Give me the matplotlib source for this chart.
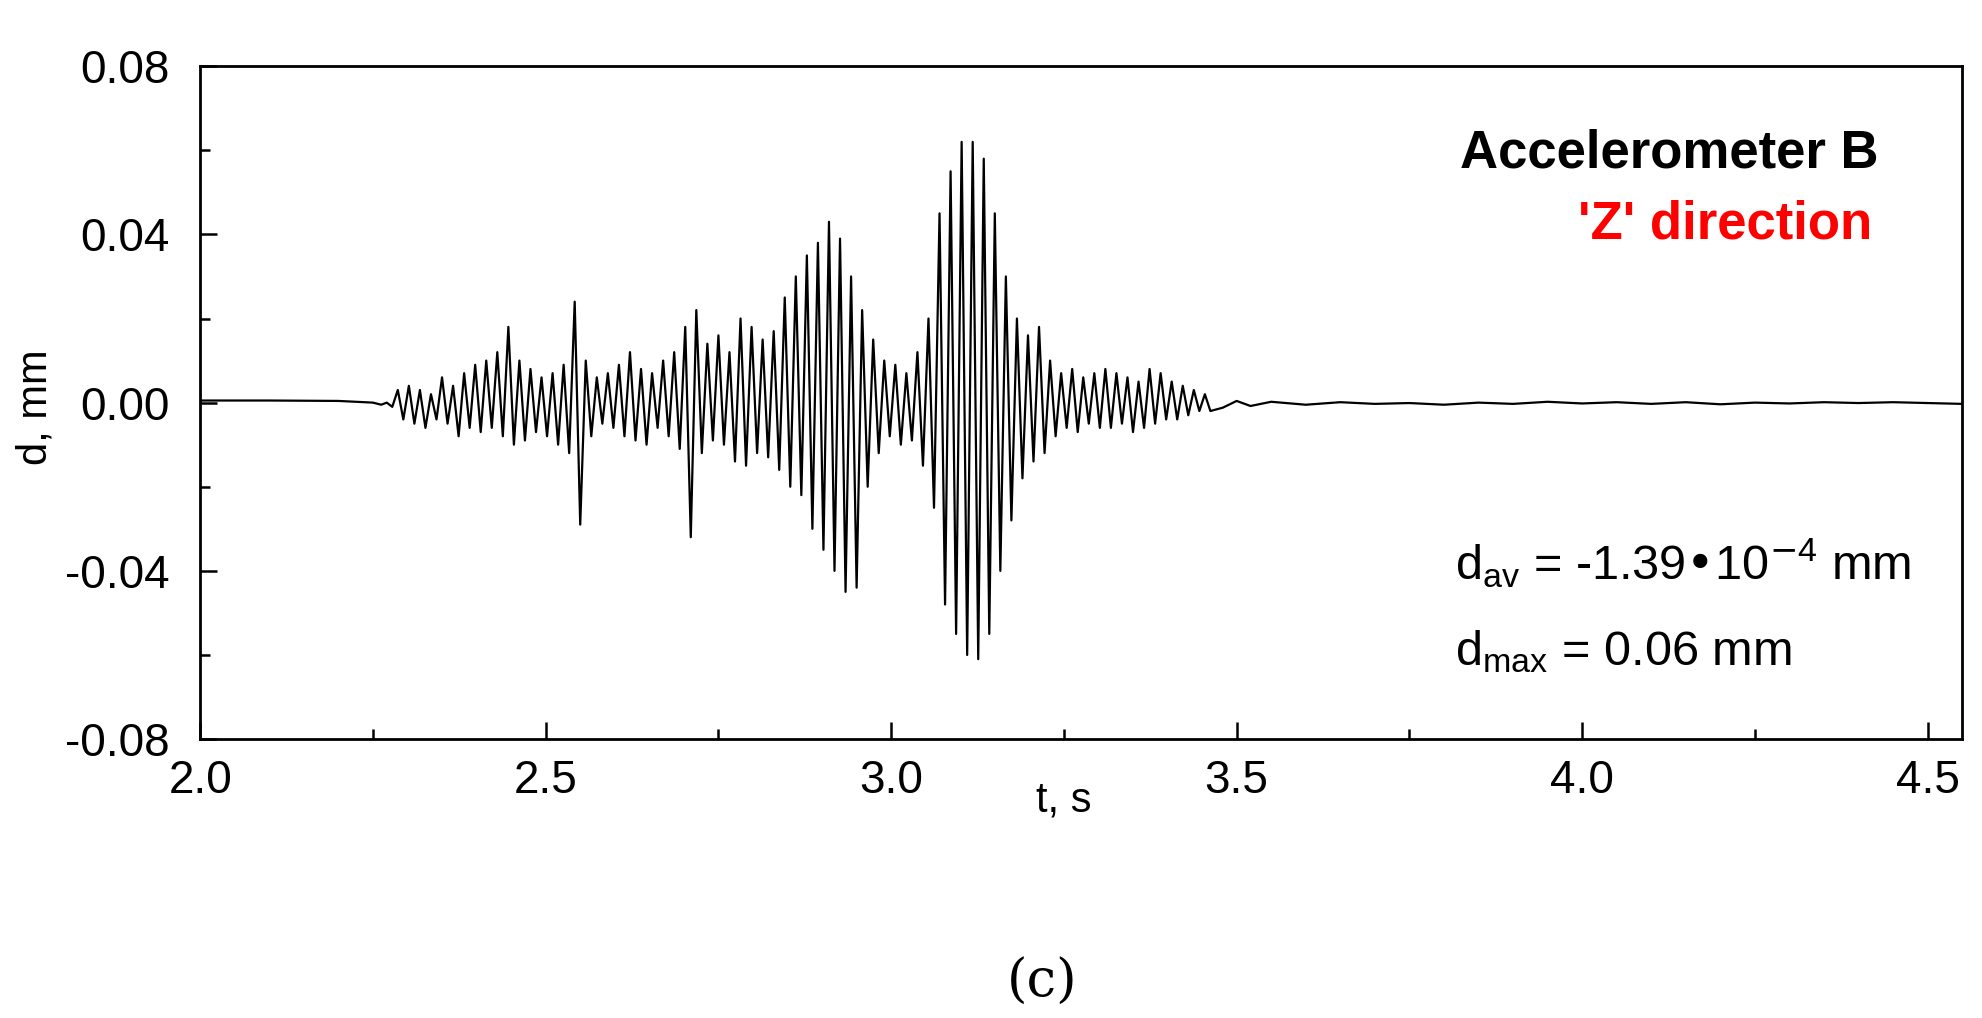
import numpy as np
import matplotlib
matplotlib.use("Agg")
import matplotlib.pyplot as plt

plt.rcParams['font.family'] = ['Liberation Sans', 'DejaVu Sans']
plt.rcParams['mathtext.default'] = 'regular'

# quiet lead-in
lead_t = [2.00, 2.10, 2.20, 2.25, 2.262]
lead_d = [0.0005, 0.0005, 0.0004, 0.0, -0.0005]

# active part, sampled every 0.008 s starting 2.270
burst_d = [
    0.000,-0.001,0.003,-0.004,0.004,-0.005,0.003,-0.006,0.002,-0.004,
    0.006,-0.005,0.004,-0.008,0.007,-0.006,0.009,-0.007,0.010,-0.006,
    0.012,-0.008,0.018,-0.010,0.010,-0.009,0.008,-0.007,0.006,-0.008,
    0.007,-0.010,0.009,-0.012,0.024,-0.029,0.010,-0.008,0.006,-0.005,
    0.007,-0.006,0.009,-0.008,0.012,-0.009,0.008,-0.010,0.007,-0.006,
    0.010,-0.008,0.012,-0.011,0.018,-0.032,0.022,-0.012,0.014,-0.009,
    0.016,-0.010,0.012,-0.014,0.020,-0.015,0.018,-0.012,0.015,-0.013,
    0.017,-0.016,0.025,-0.020,0.030,-0.022,0.035,-0.030,0.038,-0.035,
    0.043,-0.040,0.039,-0.045,0.030,-0.044,0.022,-0.020,0.015,-0.012,
    0.010,-0.008,0.009,-0.010,0.007,-0.009,0.012,-0.015,0.020,-0.025,
    0.045,-0.048,0.055,-0.055,0.062,-0.060,0.062,-0.061,0.058,-0.055,
    0.045,-0.040,0.030,-0.028,0.020,-0.018,0.016,-0.014,0.018,-0.012,
    0.010,-0.008,0.007,-0.006,0.008,-0.007,0.006,-0.005,0.007,-0.006,
    0.008,-0.006,0.007,-0.005,0.006,-0.007,0.005,-0.006,0.008,-0.005,
    0.007,-0.004,0.005,-0.004,0.004,-0.003,0.003,-0.002,0.002,-0.002,
]
burst_t = 2.270 + 0.008 * np.arange(len(burst_d))

# small tail
tail_t = [3.48, 3.50, 3.52, 3.55, 3.60, 3.65, 3.70, 3.75, 3.80, 3.85, 3.90, 3.95,
          4.00, 4.05, 4.10, 4.15, 4.20, 4.25, 4.30, 4.35, 4.40, 4.45, 4.50, 4.55]
tail_d = [-0.0012, 0.0004, -0.0008, 0.0002, -0.0005, 0.0001, -0.0003, -0.0001, -0.0005, 0.0,
          -0.0003, 0.0002, -0.0002, 0.0001, -0.0003, 0.0001, -0.0004, 0.0, -0.0002, 0.0001,
          -0.0001, 0.0001, -0.0001, -0.0003]

t = np.concatenate([lead_t, burst_t, tail_t])
d = np.concatenate([lead_d, burst_d, tail_d])

fig = plt.figure(figsize=(19.82, 10.18), dpi=100)
ax = fig.add_axes([0.101, 0.274, 0.889, 0.661])
ax.plot(t, d, color='black', lw=1.6)
ax.set_xlim(2.0, 4.55)
ax.set_ylim(-0.08, 0.08)
ax.set_xticks([2.0, 2.5, 3.0, 3.5, 4.0, 4.5])
ax.set_xticks(np.arange(2.25, 4.55, 0.5), minor=True)
ax.set_yticks([-0.08, -0.04, 0.0, 0.04, 0.08])
ax.set_yticks([-0.06, -0.02, 0.02, 0.06], minor=True)
ax.set_xticklabels(['2.0', '2.5', '3.0', '3.5', '4.0', '4.5'])
ax.set_yticklabels(['-0.08', '-0.04', '0.00', '0.04', '0.08'])
ax.tick_params(which='both', direction='in', width=1.8, labelsize=33)
ax.tick_params(axis='y', pad=22)
ax.tick_params(axis='x', pad=14)
ax.tick_params(which='major', length=12)
ax.tick_params(which='minor', length=7)
for s in ax.spines.values():
    s.set_linewidth(2)

ax.text(0.9525, 0.87, 'Accelerometer B', transform=ax.transAxes, ha='right', va='center',
        fontsize=38, fontweight='bold', color='black')
ax.text(0.949, 0.765, "'Z' direction", transform=ax.transAxes, ha='right', va='center',
        fontsize=38, fontweight='bold', color='red')
ax.text(0.712, 0.26, 'd$_{av}$ = -1.39•10$^{\\mathrm{-}4}$ mm', transform=ax.transAxes,
        ha='left', va='center', fontsize=35)
ax.text(0.712, 0.13, 'd$_{max}$ = 0.06 mm', transform=ax.transAxes,
        ha='left', va='center', fontsize=35)

ax.text(3.25, -0.0945, 't, s', ha='center', va='center', fontsize=30)
fig.text(0.018, 0.60, 'd, mm', rotation=90, ha='center', va='center', fontsize=30)
fig.text(0.526, 0.035, '(c)', ha='center', va='center', fontsize=38, family='DejaVu Serif')

fig.savefig('out.png', dpi=100)
